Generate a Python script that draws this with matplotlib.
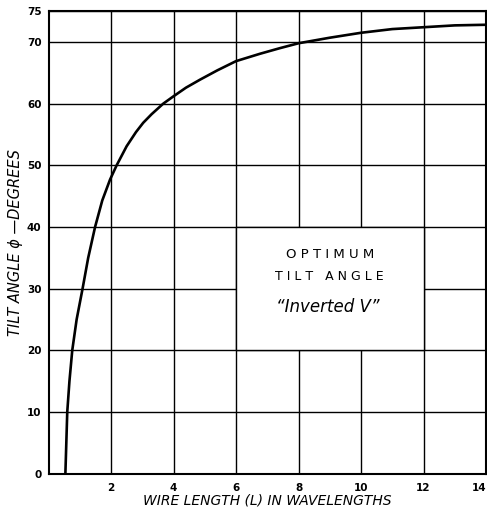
import matplotlib
matplotlib.use("Agg")
import matplotlib.pyplot as plt
from matplotlib.patches import Rectangle

# wire length in wavelengths and optimum tilt angle in degrees
wire_length = [0.54, 0.60, 0.67, 0.76, 0.90, 1.09, 1.27, 1.49, 1.72, 1.97, 2.18,
               2.50, 2.80, 3.03, 3.30, 3.67, 4.0, 4.40, 4.85, 5.40, 6.0, 6.77,
               7.40, 8.0, 9.0, 10.0, 11.0, 12.0, 13.0, 14.0]
tilt_angle = [0, 10, 15, 20, 25, 30, 35, 40, 44.3, 47.7, 50,
              53.1, 55.4, 56.9, 58.3, 60, 61.2, 62.6, 63.9, 65.4, 66.9, 68.1,
              69.0, 69.8, 70.7, 71.5, 72.1, 72.4, 72.7, 72.8]

x_ticks = [2, 4, 6, 8, 10, 12, 14]
y_ticks = [0, 10, 20, 30, 40, 50, 60, 70, 75]

fig = plt.figure(figsize=(4.87, 5.09), dpi=100)
ax = fig.add_axes([0.0996, 0.0695, 0.8984, 0.9085])

ax.plot(wire_length, tilt_angle, color="black", linewidth=1.9, zorder=3)

ax.set_xlim(0, 14)
ax.set_ylim(0, 75)
ax.set_xticks(x_ticks)
ax.set_yticks(y_ticks)
ax.tick_params(length=0, labelsize=7.5)
ax.tick_params(axis="x", pad=7)
ax.tick_params(axis="y", pad=5)
for lab in ax.get_xticklabels() + ax.get_yticklabels():
    lab.set_fontweight("bold")
# keep the last x label inside the figure
ax.get_xticklabels()[-1].set_horizontalalignment("right")

ax.set_axisbelow(True)
ax.grid(True, color="black", linewidth=1.0)
for s in ax.spines.values():
    s.set_linewidth(1.5)

# label panel blanks out the grid inside its cell block
ax.add_patch(Rectangle((6, 20), 6, 20, facecolor="white", edgecolor="black",
                       linewidth=1.0, zorder=1))
ax.text(9.0, 35.6, "O P T I M U M", ha="center", va="center", fontsize=9.5)
ax.text(9.0, 31.9, "T I L T   A N G L E", ha="center", va="center", fontsize=9)
ax.text(8.95, 27.1, "\u201cInverted V\u201d", ha="center", va="center",
        fontsize=12, style="italic")

ax.set_xlabel("WIRE LENGTH (L) IN WAVELENGTHS", fontsize=10, style="italic",
              labelpad=0)
ax.set_ylabel("TILT ANGLE \u03d5 \u2014DEGREES", fontsize=10.5, style="italic",
              labelpad=3)

fig.savefig("out.png", dpi=100)
